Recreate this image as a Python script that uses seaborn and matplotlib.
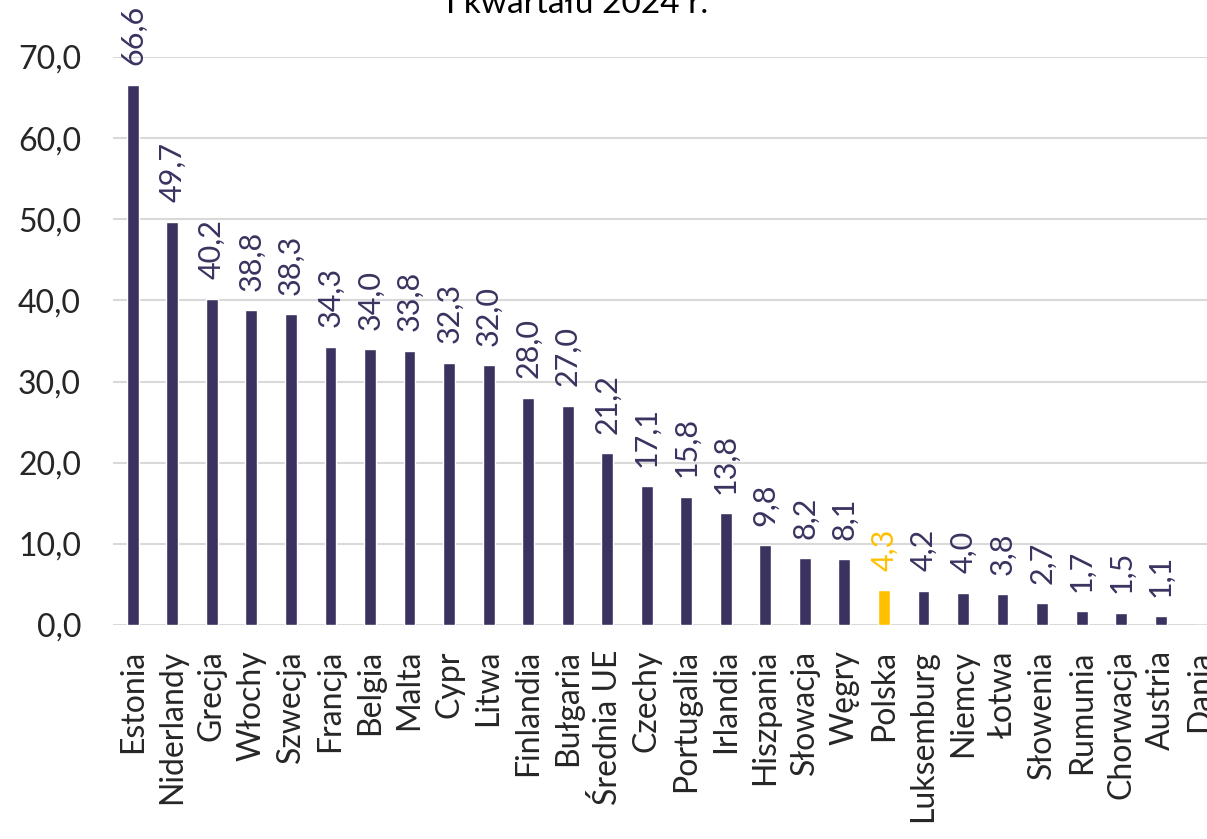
import numpy as np
import pandas as pd
import matplotlib
matplotlib.use("Agg")
import matplotlib.pyplot as plt
import seaborn as sns

# dane
countries = ["Estonia", "Niderlandy", "Grecja", "Włochy", "Szwecja", "Francja",
             "Belgia", "Malta", "Cypr", "Litwa", "Finlandia", "Bułgaria",
             "Średnia UE", "Czechy", "Portugalia", "Irlandia", "Hiszpania",
             "Słowacja", "Węgry", "Polska", "Luksemburg", "Niemcy", "Łotwa",
             "Słowenia", "Rumunia", "Chorwacja", "Austria", "Dania"]
values = [66.6, 49.7, 40.2, 38.8, 38.3, 34.3, 34.0, 33.8, 32.3, 32.0, 28.0,
          27.0, 21.2, 17.1, 15.8, 13.8, 9.8, 8.2, 8.1, 4.3, 4.2, 4.0, 3.8,
          2.7, 1.7, 1.5, 1.1, 0.0]
highlight = "Polska"
title_text = "I kwartału 2024 r."

BAR_COLOR = "#3B3260"
HL_COLOR = "#FFC000"

df = pd.DataFrame({"kraj": countries, "wartosc": values})
colors = [HL_COLOR if c == highlight else BAR_COLOR for c in countries]

sns.set_theme(style="white")
plt.rcParams["font.family"] = ["Lato", "DejaVu Sans"]

fig = plt.figure(figsize=(12.07, 8.39), dpi=100)
ax = fig.add_axes([113 / 1207, 214 / 839, 1107 / 1207, 568 / 839])

sns.barplot(data=df, x="kraj", y="wartosc", hue="kraj", palette=colors,
            legend=False, width=0.3, saturation=1, ax=ax)

ax.set_ylim(0, 70)
ax.set_xlim(-0.5, len(countries) - 0.5)
ax.set_yticks(np.arange(0, 71, 10))
ax.set_yticklabels([f"{v:.1f}".replace(".", ",") for v in np.arange(0, 71, 10)],
                   fontsize=23)
ax.tick_params(axis="y", length=0, pad=23)
ax.tick_params(axis="x", length=0, pad=18)
ax.set_xticks(range(len(countries)))
ax.set_xticklabels(countries, rotation=90, fontsize=23, va="top", ha="center")
ax.set_xlabel("")
ax.set_ylabel("")
ax.grid(axis="y", color="#D9D9D9", linewidth=1.5)
ax.set_axisbelow(True)
for s in ax.spines.values():
    s.set_visible(False)

# etykiety wartości
for i, (c, v) in enumerate(zip(countries, values)):
    if v <= 0:
        continue
    col = HL_COLOR if c == highlight else BAR_COLOR
    ax.annotate(f"{v:.1f}".replace(".", ","), (i, v), xytext=(0, 14),
                textcoords="offset points", rotation=90, ha="center",
                va="bottom", fontsize=22, color=col, annotation_clip=False)

fig.text(577 / 1207, 1 - 13 / 839, title_text, ha="center", va="baseline",
         fontsize=24, color="black")

fig.savefig("out.png", dpi=100)
